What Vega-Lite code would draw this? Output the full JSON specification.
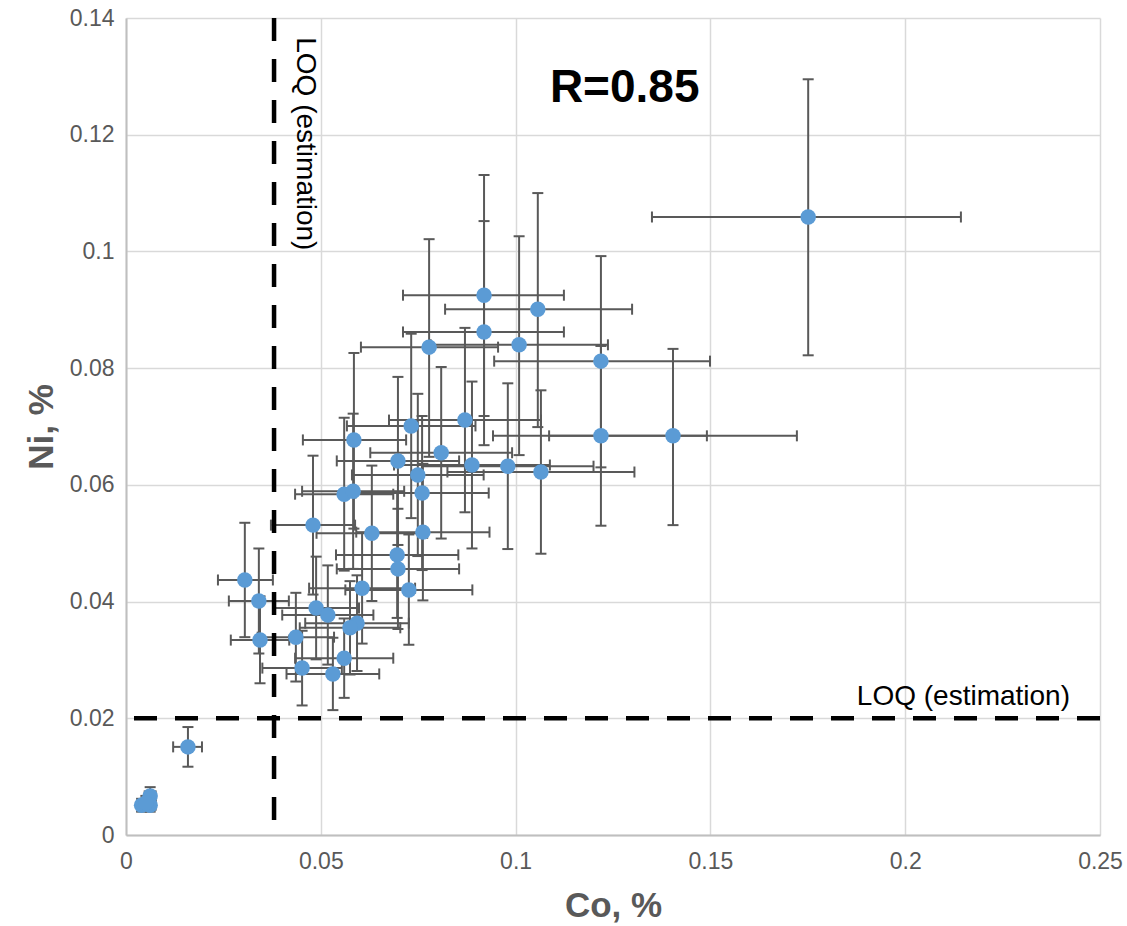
{
  "$schema": "https://vega.github.io/schema/vega-lite/v6.json",
  "width": 974,
  "height": 817,
  "autosize": "none",
  "padding": {"left": 126, "top": 18, "right": 27, "bottom": 91},
  "background": "white",
  "config": {
    "view": {"stroke": null},
    "font": "Liberation Sans",
    "axis": {
      "gridColor": "#d9d9d9",
      "gridWidth": 1.5,
      "domainColor": "#bfbfbf",
      "domainWidth": 2,
      "ticks": false,
      "labelFlush": false,
      "labelFont": "Liberation Sans",
      "labelFontSize": 23,
      "labelColor": "#595959",
      "titleFont": "Liberation Sans",
      "titleFontSize": 35,
      "titleFontWeight": "bold",
      "titleColor": "#595959",
      "labelPadding": 12
    }
  },
  "datasets": {
    "pts": [
      {"x": 0.1751, "y": 0.1059, "xlo": 0.1350, "xhi": 0.2143, "ylo": 0.0822, "yhi": 0.1295},
      {"x": 0.0919, "y": 0.0925, "xlo": 0.0711, "xhi": 0.1124, "ylo": 0.0718, "yhi": 0.1131},
      {"x": 0.1057, "y": 0.0901, "xlo": 0.0819, "xhi": 0.1299, "ylo": 0.0699, "yhi": 0.1100},
      {"x": 0.0919, "y": 0.0862, "xlo": 0.0711, "xhi": 0.1124, "ylo": 0.0668, "yhi": 0.1052},
      {"x": 0.1009, "y": 0.0840, "xlo": 0.0782, "xhi": 0.1237, "ylo": 0.0651, "yhi": 0.1026},
      {"x": 0.0778, "y": 0.0836, "xlo": 0.0603, "xhi": 0.0955, "ylo": 0.0648, "yhi": 0.1021},
      {"x": 0.1219, "y": 0.0812, "xlo": 0.0945, "xhi": 0.1499, "ylo": 0.0630, "yhi": 0.0992},
      {"x": 0.0870, "y": 0.0711, "xlo": 0.0675, "xhi": 0.1065, "ylo": 0.0553, "yhi": 0.0869},
      {"x": 0.0732, "y": 0.0701, "xlo": 0.0567, "xhi": 0.0897, "ylo": 0.0543, "yhi": 0.0859},
      {"x": 0.0585, "y": 0.0677, "xlo": 0.0454, "xhi": 0.0719, "ylo": 0.0525, "yhi": 0.0826},
      {"x": 0.1219, "y": 0.0684, "xlo": 0.0942, "xhi": 0.1491, "ylo": 0.0530, "yhi": 0.0838},
      {"x": 0.1404, "y": 0.0684, "xlo": 0.1086, "xhi": 0.1722, "ylo": 0.0531, "yhi": 0.0833},
      {"x": 0.0809, "y": 0.0655, "xlo": 0.0627, "xhi": 0.0991, "ylo": 0.0508, "yhi": 0.0802},
      {"x": 0.0698, "y": 0.0641, "xlo": 0.0541, "xhi": 0.0855, "ylo": 0.0497, "yhi": 0.0785},
      {"x": 0.0888, "y": 0.0634, "xlo": 0.0688, "xhi": 0.1088, "ylo": 0.0491, "yhi": 0.0777},
      {"x": 0.0980, "y": 0.0632, "xlo": 0.0760, "xhi": 0.1200, "ylo": 0.0490, "yhi": 0.0774},
      {"x": 0.1065, "y": 0.0622, "xlo": 0.0825, "xhi": 0.1305, "ylo": 0.0482, "yhi": 0.0762},
      {"x": 0.0749, "y": 0.0617, "xlo": 0.0580, "xhi": 0.0918, "ylo": 0.0478, "yhi": 0.0756},
      {"x": 0.0560, "y": 0.0584, "xlo": 0.0434, "xhi": 0.0686, "ylo": 0.0453, "yhi": 0.0715},
      {"x": 0.0583, "y": 0.0589, "xlo": 0.0452, "xhi": 0.0714, "ylo": 0.0456, "yhi": 0.0722},
      {"x": 0.0760, "y": 0.0586, "xlo": 0.0589, "xhi": 0.0931, "ylo": 0.0454, "yhi": 0.0718},
      {"x": 0.0480, "y": 0.0531, "xlo": 0.0372, "xhi": 0.0588, "ylo": 0.0412, "yhi": 0.0650},
      {"x": 0.0631, "y": 0.0517, "xlo": 0.0489, "xhi": 0.0773, "ylo": 0.0401, "yhi": 0.0633},
      {"x": 0.0762, "y": 0.0519, "xlo": 0.0591, "xhi": 0.0933, "ylo": 0.0402, "yhi": 0.0636},
      {"x": 0.0696, "y": 0.0480, "xlo": 0.0539, "xhi": 0.0853, "ylo": 0.0372, "yhi": 0.0588},
      {"x": 0.0698, "y": 0.0456, "xlo": 0.0541, "xhi": 0.0855, "ylo": 0.0353, "yhi": 0.0559},
      {"x": 0.0606, "y": 0.0423, "xlo": 0.0470, "xhi": 0.0742, "ylo": 0.0328, "yhi": 0.0518},
      {"x": 0.0726, "y": 0.0420, "xlo": 0.0563, "xhi": 0.0889, "ylo": 0.0326, "yhi": 0.0515},
      {"x": 0.0305, "y": 0.0437, "xlo": 0.0236, "xhi": 0.0377, "ylo": 0.0339, "yhi": 0.0535},
      {"x": 0.0341, "y": 0.0401, "xlo": 0.0264, "xhi": 0.0418, "ylo": 0.0311, "yhi": 0.0491},
      {"x": 0.0488, "y": 0.0389, "xlo": 0.0378, "xhi": 0.0598, "ylo": 0.0301, "yhi": 0.0477},
      {"x": 0.0518, "y": 0.0377, "xlo": 0.0401, "xhi": 0.0635, "ylo": 0.0292, "yhi": 0.0462},
      {"x": 0.0593, "y": 0.0363, "xlo": 0.0460, "xhi": 0.0726, "ylo": 0.0281, "yhi": 0.0445},
      {"x": 0.0575, "y": 0.0355, "xlo": 0.0446, "xhi": 0.0704, "ylo": 0.0275, "yhi": 0.0435},
      {"x": 0.0344, "y": 0.0334, "xlo": 0.0269, "xhi": 0.0419, "ylo": 0.0260, "yhi": 0.0409},
      {"x": 0.0436, "y": 0.0339, "xlo": 0.0338, "xhi": 0.0534, "ylo": 0.0263, "yhi": 0.0415},
      {"x": 0.0452, "y": 0.0286, "xlo": 0.0350, "xhi": 0.0554, "ylo": 0.0222, "yhi": 0.0350},
      {"x": 0.0560, "y": 0.0303, "xlo": 0.0434, "xhi": 0.0686, "ylo": 0.0235, "yhi": 0.0371},
      {"x": 0.0531, "y": 0.0276, "xlo": 0.0412, "xhi": 0.0650, "ylo": 0.0214, "yhi": 0.0338},
      {"x": 0.0159, "y": 0.0151, "xlo": 0.0121, "xhi": 0.0195, "ylo": 0.0117, "yhi": 0.0185},
      {"x": 0.0040, "y": 0.0051, "xlo": 0.0031, "xhi": 0.0049, "ylo": 0.0040, "yhi": 0.0062},
      {"x": 0.0062, "y": 0.0067, "xlo": 0.0048, "xhi": 0.0076, "ylo": 0.0052, "yhi": 0.0082},
      {"x": 0.0062, "y": 0.0051, "xlo": 0.0048, "xhi": 0.0076, "ylo": 0.0040, "yhi": 0.0062},
      {"x": 0.0051, "y": 0.0055, "xlo": 0.0040, "xhi": 0.0062, "ylo": 0.0043, "yhi": 0.0067}
    ],
    "notes": [
      {"label": "LOQ (estimation)", "kind": "v", "nx": 0.0459, "ny": 0.1367},
      {"label": "LOQ (estimation)", "kind": "h", "nx": 0.2423, "ny": 0.0237},
      {"label": "R=0.85", "kind": "r", "nx": 0.128, "ny": 0.128}
    ],
    "loq": [{"lx": 0.038, "ly": 0.02}]
  },
  "layer": [
    {
      "data": {"name": "pts"},
      "mark": {"type": "rule", "color": "#595959", "strokeWidth": 2},
      "encoding": {
        "x": {"field": "xlo", "type": "quantitative", "scale": {"domain": [0, 0.25], "nice": false},
          "axis": {"values": [0, 0.05, 0.1, 0.15, 0.2, 0.25], "format": "~g", "title": "Co, %", "labelPadding": 15, "titlePadding": 15}},
        "x2": {"field": "xhi"},
        "y": {"field": "y", "type": "quantitative", "scale": {"domain": [0, 0.14], "nice": false},
          "axis": {"values": [0, 0.02, 0.04, 0.06, 0.08, 0.1, 0.12, 0.14], "format": "~g", "title": "Ni, %", "titlePadding": 10}}
      }
    },
    {
      "data": {"name": "pts"},
      "mark": {"type": "rule", "color": "#595959", "strokeWidth": 2},
      "encoding": {
        "x": {"field": "x", "type": "quantitative"},
        "y": {"field": "ylo", "type": "quantitative"},
        "y2": {"field": "yhi"}
      }
    },
    {
      "data": {"name": "pts"},
      "mark": {"type": "tick", "orient": "vertical", "color": "#595959", "thickness": 2, "size": 11, "opacity": 1},
      "encoding": {"x": {"field": "xlo", "type": "quantitative"}, "y": {"field": "y", "type": "quantitative"}}
    },
    {
      "data": {"name": "pts"},
      "mark": {"type": "tick", "orient": "vertical", "color": "#595959", "thickness": 2, "size": 11, "opacity": 1},
      "encoding": {"x": {"field": "xhi", "type": "quantitative"}, "y": {"field": "y", "type": "quantitative"}}
    },
    {
      "data": {"name": "pts"},
      "mark": {"type": "tick", "orient": "horizontal", "color": "#595959", "thickness": 2, "size": 11, "opacity": 1},
      "encoding": {"x": {"field": "x", "type": "quantitative"}, "y": {"field": "ylo", "type": "quantitative"}}
    },
    {
      "data": {"name": "pts"},
      "mark": {"type": "tick", "orient": "horizontal", "color": "#595959", "thickness": 2, "size": 11, "opacity": 1},
      "encoding": {"x": {"field": "x", "type": "quantitative"}, "y": {"field": "yhi", "type": "quantitative"}}
    },
    {
      "data": {"name": "loq"},
      "mark": {"type": "rule", "color": "black", "strokeWidth": 4.5, "strokeDash": [23, 18]},
      "encoding": {"x": {"field": "lx", "type": "quantitative"}}
    },
    {
      "data": {"name": "loq"},
      "mark": {"type": "rule", "color": "black", "strokeWidth": 4.5, "strokeDash": [23, 18]},
      "encoding": {"y": {"field": "ly", "type": "quantitative"}}
    },
    {
      "data": {"name": "pts"},
      "mark": {"type": "circle", "color": "#5b9bd5", "opacity": 1, "size": 240},
      "encoding": {"x": {"field": "x", "type": "quantitative"}, "y": {"field": "y", "type": "quantitative"}}
    },
    {
      "data": {"name": "notes"},
      "transform": [{"filter": "datum.kind == 'v'"}],
      "mark": {"type": "text", "angle": 90, "align": "left", "baseline": "middle", "fontSize": 28, "color": "black", "font": "Liberation Sans"},
      "encoding": {"x": {"field": "nx", "type": "quantitative"}, "y": {"field": "ny", "type": "quantitative"}, "text": {"field": "label"}}
    },
    {
      "data": {"name": "notes"},
      "transform": [{"filter": "datum.kind == 'h'"}],
      "mark": {"type": "text", "align": "right", "baseline": "middle", "fontSize": 28, "color": "black", "font": "Liberation Sans"},
      "encoding": {"x": {"field": "nx", "type": "quantitative"}, "y": {"field": "ny", "type": "quantitative"}, "text": {"field": "label"}}
    },
    {
      "data": {"name": "notes"},
      "transform": [{"filter": "datum.kind == 'r'"}],
      "mark": {"type": "text", "align": "center", "baseline": "middle", "fontSize": 46, "fontWeight": "bold", "color": "black", "font": "Liberation Sans"},
      "encoding": {"x": {"field": "nx", "type": "quantitative"}, "y": {"field": "ny", "type": "quantitative"}, "text": {"field": "label"}}
    }
  ]
}
